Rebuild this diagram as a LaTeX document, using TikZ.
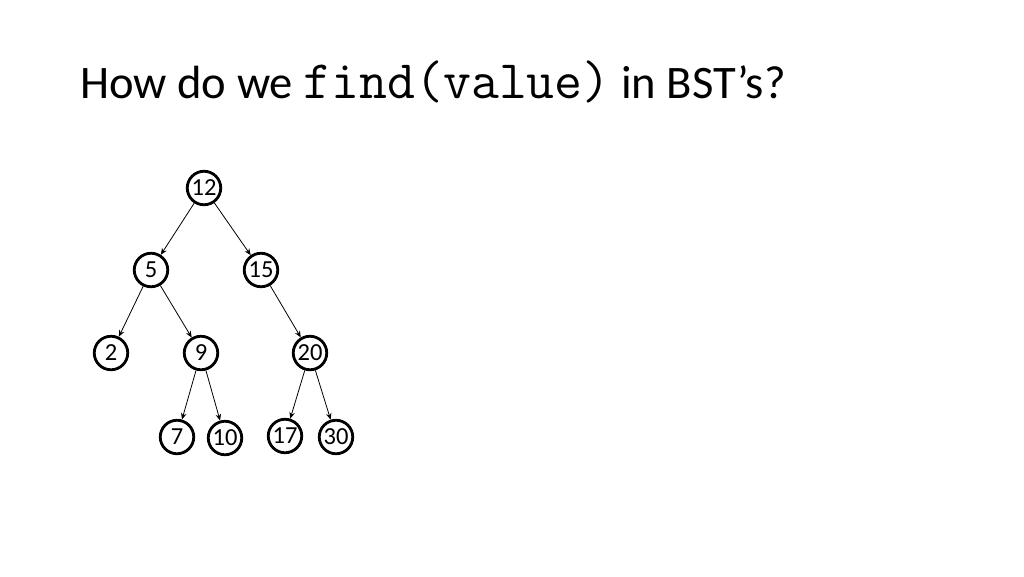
\documentclass[tikz,border=0pt]{standalone}
\usepackage{fontspec}
\setmainfont{Carlito}
\usetikzlibrary{arrows.meta}
\begin{document}
\begin{tikzpicture}[x=1pt,y=-1pt,
  bstnode/.style={circle,draw=black,line width=2.8pt,minimum size=33.5pt,inner sep=0pt,font=\fontsize{24.5}{24.5}\selectfont},
  bstedge/.style={line width=0.8pt,-{Stealth[length=6.5pt,width=5.5pt]}}]
\useasboundingbox (0,0) rectangle (1024,576);
\node[anchor=base west,inner sep=0pt,font=\fontsize{46.6}{50}\selectfont] (title) at (80,98)
  {How do we {\ttfamily\fontsize{54.2}{50}\selectfont find(value)} in BST’s?};
\node[bstnode] (n12) at (204,188) {12};
\node[bstnode] (n5) at (151,270) {5};
\node[bstnode] (n15) at (261,270) {15};
\node[bstnode] (n2) at (111,353) {2};
\node[bstnode] (n9) at (201,353) {9};
\node[bstnode] (n20) at (310,353) {20};
\node[bstnode] (n7) at (177,437) {7};
\node[bstnode] (n10) at (225,438) {10};
\node[bstnode] (n17) at (285,436) {17};
\node[bstnode] (n30) at (336,437) {30};
\draw[bstedge] (n12) -- (n5);
\draw[bstedge] (n12) -- (n15);
\draw[bstedge] (n5) -- (n2);
\draw[bstedge] (n5) -- (n9);
\draw[bstedge] (n15) -- (n20);
\draw[bstedge] (n9) -- (n7);
\draw[bstedge] (n9) -- (n10);
\draw[bstedge] (n20) -- (n17);
\draw[bstedge] (n20) -- (n30);
\end{tikzpicture}
\end{document}
